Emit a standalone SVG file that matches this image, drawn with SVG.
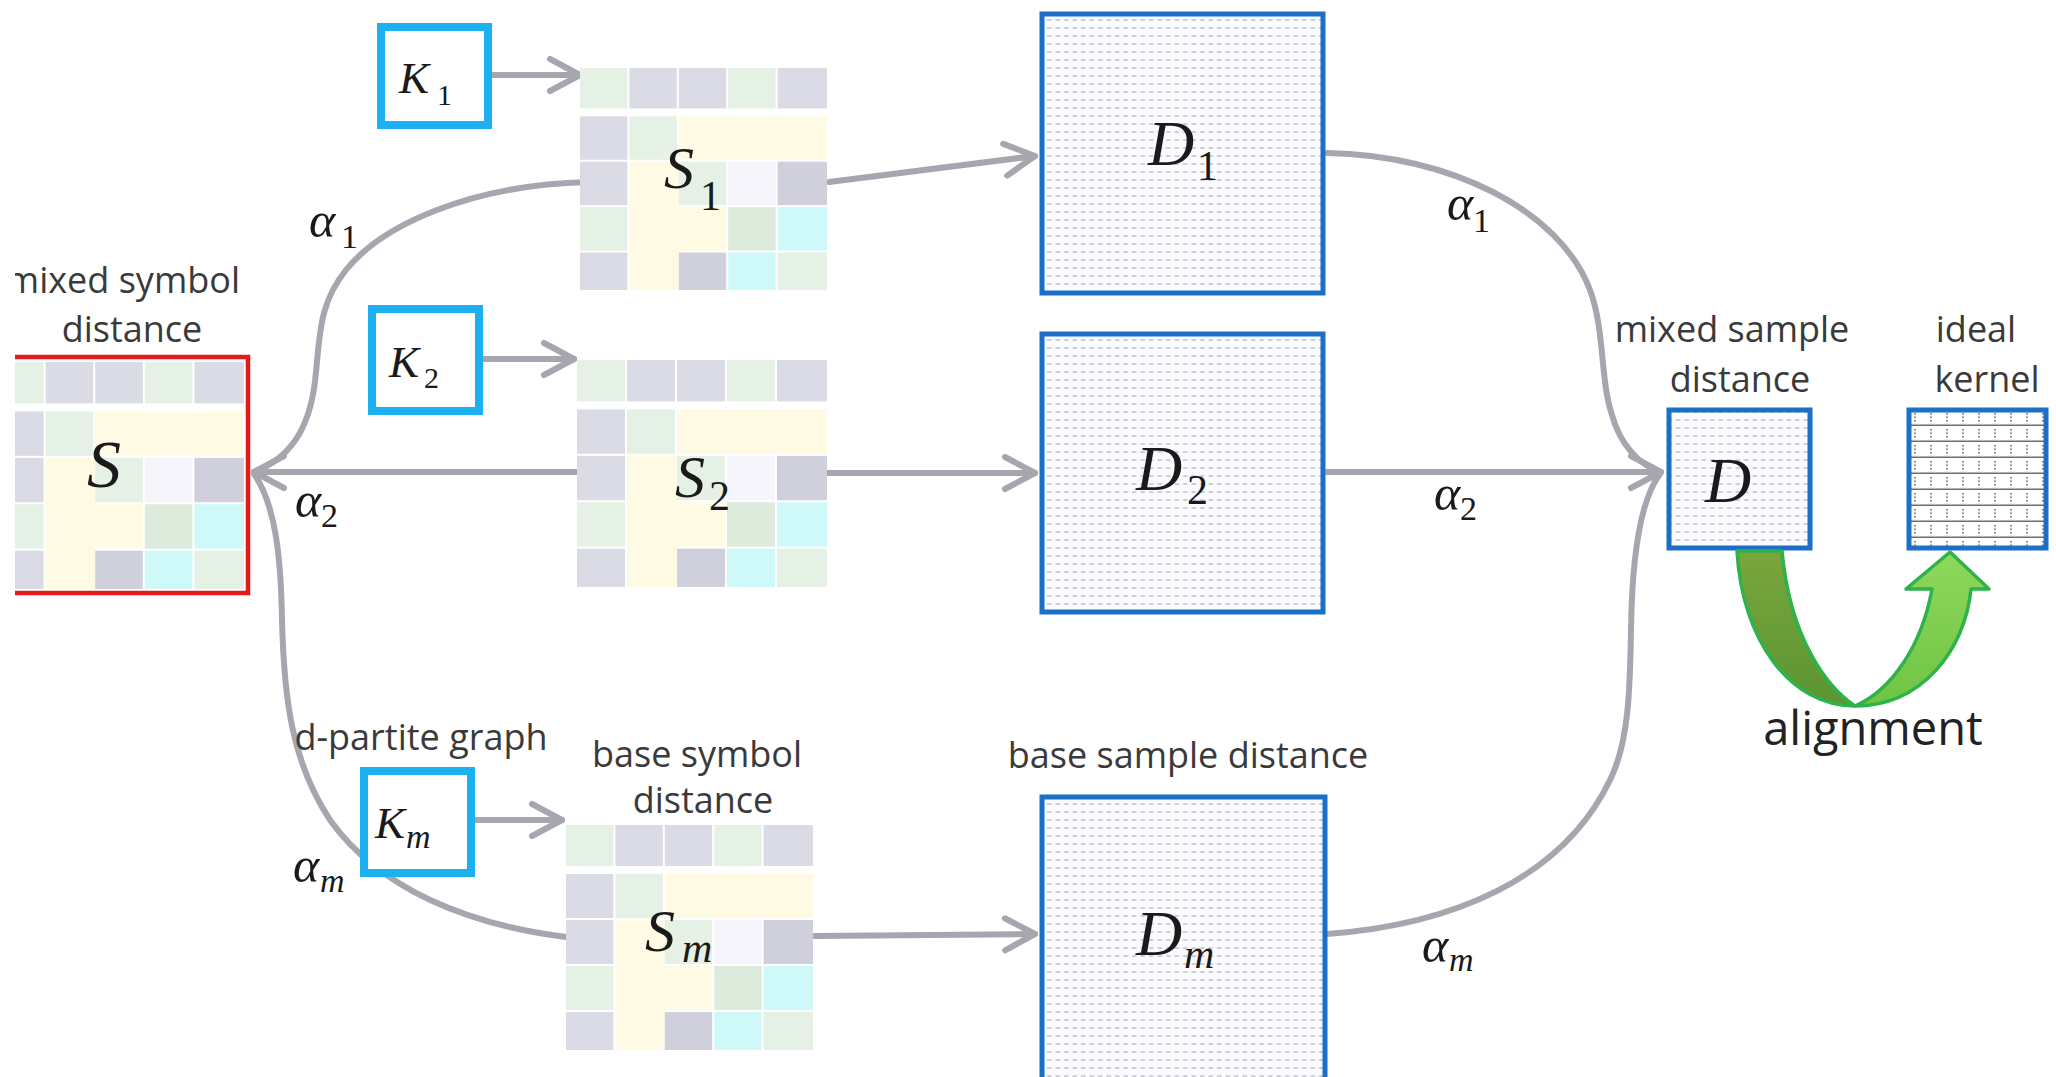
<svg xmlns="http://www.w3.org/2000/svg" xmlns:xlink="http://www.w3.org/1999/xlink" width="2056" height="1077" viewBox="0 0 2056 1077">
  <style>
    .lbl { font-family: "Open Sans", "Noto Sans", "DejaVu Sans", sans-serif; font-size: 36px; fill: #3a3a3a; text-anchor: middle; }
    .big { font-size: 47px; fill: #222; }
    .m { font-family: "Liberation Serif", "DejaVu Serif", serif; font-style: italic; fill: #1a1a1a; }
    .up { font-style: normal; }
    .kbox { fill: #fff; stroke: #1cb0f0; stroke-width: 8; }
    .dbox { fill: url(#dots); stroke: #1b6fc4; stroke-width: 5; }
    .conn { fill: none; stroke: #a6a6ae; stroke-width: 6; stroke-linecap: round; }
    .arr { marker-end: url(#chev); }
    .g { fill: #e4f1e4; } .b { fill: #dbdbe6; } .y { fill: #fffae3; }
    .w { fill: #f5f5fb; } .d { fill: #d0d0dc; } .c { fill: #cff9f9; } .g2 { fill: #dcebdc; }
  </style>
  <defs>
    <marker id="chev" markerUnits="userSpaceOnUse" markerWidth="44" markerHeight="44" viewBox="0 0 44 44" refX="36" refY="22" orient="auto" overflow="visible">
      <path d="M6,6 L36,22 L6,38" fill="none" stroke="#a6a6ae" stroke-width="6" stroke-linecap="round" stroke-linejoin="round"/>
    </marker>
    <!-- fine dash texture used inside the distance matrices -->
    <pattern id="dots" patternUnits="userSpaceOnUse" width="8.5" height="8">
      <rect width="8.5" height="8" fill="#fbfbfe"/>
      <rect x="1.5" y="3.4" width="4.5" height="1.3" fill="#b6b6ca"/>
    </pattern>
    <!-- ruled texture of the ideal kernel -->
    <pattern id="rules" patternUnits="userSpaceOnUse" x="1907" y="410" width="16" height="16">
      <rect width="16" height="16" fill="#fff"/>
      <rect x="0" y="14.5" width="16" height="1.5" fill="#6a6a6a"/>
      <rect x="7" y="3" width="2" height="1.6" fill="#8a8a8a"/>
      <rect x="7" y="6.5" width="2" height="1.6" fill="#8a8a8a"/>
      <rect x="7" y="10" width="2" height="1.6" fill="#8a8a8a"/>
    </pattern>
    <linearGradient id="bandDark" x1="0" y1="0" x2="0" y2="1">
      <stop offset="0" stop-color="#7aa63c"/>
      <stop offset="1" stop-color="#5b9432"/>
    </linearGradient>
    <linearGradient id="bandLight" x1="0" y1="1" x2="0" y2="0">
      <stop offset="0" stop-color="#6fc444"/>
      <stop offset="1" stop-color="#8fd85c"/>
    </linearGradient>
    <clipPath id="edge">
      <rect x="15" y="0" width="600" height="1077"/>
    </clipPath>
    <!-- 5x5 coloured symbol-distance grid -->
    <symbol id="grid" viewBox="0 0 250 225" preserveAspectRatio="none">
      <rect class="g" x="0" y="0" width="48" height="41"/>
      <rect class="b" x="50" y="0" width="48" height="41"/>
      <rect class="b" x="100" y="0" width="48" height="41"/>
      <rect class="g" x="150" y="0" width="48" height="41"/>
      <rect class="b" x="200" y="0" width="50" height="41"/>

      <rect class="b" x="0" y="49" width="48" height="44"/>
      <rect class="g" x="50" y="49" width="48" height="44"/>
      <rect class="y" x="100" y="49" width="150" height="44"/>

      <rect class="b" x="0" y="95" width="48" height="44"/>
      <rect class="y" x="50" y="95" width="50" height="130"/>
      <rect class="g" x="100" y="95" width="48" height="44"/>
      <rect class="w" x="150" y="95" width="48" height="44"/>
      <rect class="d" x="200" y="95" width="50" height="44"/>

      <rect class="g" x="0" y="141" width="48" height="44"/>
      <rect class="y" x="100" y="141" width="48" height="44"/>
      <rect class="g2" x="150" y="141" width="48" height="44"/>
      <rect class="c" x="200" y="141" width="50" height="44"/>

      <rect class="b" x="0" y="187" width="48" height="38"/>
      <rect class="d" x="100" y="187" width="48" height="38"/>
      <rect class="c" x="150" y="187" width="48" height="38"/>
      <rect class="g" x="200" y="187" width="50" height="38"/>
    </symbol>
  </defs>

  <rect width="2056" height="1077" fill="#fff"/>

  <!-- connectors -->
  <g id="connectors">
    <path class="conn arr" d="M492,75 L580,75"/>
    <path class="conn arr" d="M483,359 L574,359"/>
    <path class="conn arr" d="M475,820 L562,820"/>
    <path class="conn arr" d="M829,182 L1035,156"/>
    <path class="conn arr" d="M827,473 L1035,473"/>
    <path class="conn arr" d="M815,936 L1035,934"/>
    <path class="conn" d="M588,182 C470,185 382,225 346,270 C320,302 320,332 316,372 C312,420 296,456 254,472"/>
    <path class="conn arr" d="M577,472 L254,472"/>
    <path class="conn" d="M566,937 C470,925 380,890 330,820 C292,762 284,700 282,620 C281,560 276,505 254,474"/>
    <path class="conn" d="M1327,153 C1450,155 1560,210 1590,290 C1605,330 1600,380 1612,415 C1620,445 1640,465 1660,472"/>
    <path class="conn arr" d="M1327,472 L1661,472"/>
    <path class="conn" d="M1327,934 C1450,925 1562,880 1610,780 C1630,740 1630,680 1631,630 C1632,560 1640,500 1660,474"/>
  </g>

  <!-- mixed symbol distance -->
  <g id="node-S" clip-path="url(#edge)">
    <text class="lbl" x="240" y="293" style="text-anchor:end">mixed symbol</text>
    <text class="lbl" x="132" y="342">distance</text>
    <use href="#grid" xlink:href="#grid" x="-4" y="362" width="248" height="227"/>
    <path d="M15,357 H248 V593 H15" fill="none" stroke="#e3191c" stroke-width="4.5"/>
    <text class="m" x="87" y="487" font-size="68">S</text>
  </g>

  <!-- graph kernels -->
  <g id="node-K1">
    <rect class="kbox" x="381" y="27" width="107" height="98"/>
    <text class="m" x="399" y="93" font-size="45">K</text>
    <text class="m up" x="437" y="105" font-size="30">1</text>
  </g>
  <g id="node-K2">
    <rect class="kbox" x="372" y="309" width="107" height="102"/>
    <text class="m" x="389" y="377" font-size="45">K</text>
    <text class="m up" x="424" y="388" font-size="30">2</text>
  </g>
  <g id="node-Km">
    <text class="lbl" x="421" y="750">d-partite graph</text>
    <rect class="kbox" x="364" y="771" width="107" height="102"/>
    <text class="m" x="375" y="838" font-size="45">K</text>
    <text class="m" x="406" y="848" font-size="34">m</text>
  </g>

  <!-- base symbol distances -->
  <g id="node-S1">
    <use href="#grid" xlink:href="#grid" x="580" y="68" width="247" height="222"/>
    <text class="m" x="664" y="188" font-size="60">S</text>
    <text class="m up" x="700" y="210" font-size="42">1</text>
  </g>
  <g id="node-S2">
    <use href="#grid" xlink:href="#grid" x="577" y="360" width="250" height="227"/>
    <text class="m" x="675" y="497" font-size="60">S</text>
    <text class="m up" x="709" y="510" font-size="42">2</text>
  </g>
  <g id="node-Sm">
    <text class="lbl" x="697" y="767">base symbol</text>
    <text class="lbl" x="703" y="813">distance</text>
    <use href="#grid" xlink:href="#grid" x="566" y="825" width="247" height="225"/>
    <text class="m" x="645" y="951" font-size="60">S</text>
    <text class="m" x="682" y="962" font-size="42">m</text>
  </g>

  <!-- base sample distances -->
  <g id="node-D1">
    <rect class="dbox" x="1042" y="14" width="281" height="279"/>
    <text class="m" x="1148" y="165" font-size="64">D</text>
    <text class="m up" x="1197" y="180" font-size="42">1</text>
  </g>
  <g id="node-D2">
    <rect class="dbox" x="1042" y="334" width="281" height="278"/>
    <text class="m" x="1136" y="490" font-size="64">D</text>
    <text class="m up" x="1187" y="504" font-size="42">2</text>
  </g>
  <g id="node-Dm">
    <text class="lbl" x="1188" y="768">base sample distance</text>
    <rect class="dbox" x="1042" y="797" width="283" height="290"/>
    <text class="m" x="1136" y="955" font-size="64">D</text>
    <text class="m" x="1184" y="968" font-size="42">m</text>
  </g>

  <!-- mixed sample distance -->
  <g id="node-D">
    <text class="lbl" x="1732" y="342">mixed sample</text>
    <text class="lbl" x="1740" y="392">distance</text>
    <rect class="dbox" x="1669" y="410" width="141" height="138"/>
    <text class="m" x="1705" y="502" font-size="64">D</text>
  </g>

  <!-- ideal kernel -->
  <g id="node-ideal">
    <text class="lbl" x="1976" y="342">ideal</text>
    <text class="lbl" x="1987" y="392">kernel</text>
    <rect x="1909" y="410" width="137" height="138" fill="url(#rules)" stroke="#1b6fc4" stroke-width="5"/>
  </g>

  <!-- alignment arrow -->
  <g id="node-alignment">
    <path d="M1737,551 C1742,640 1790,706 1855,706 C1828,688 1790,640 1782,551 Z" fill="url(#bandDark)" stroke="#2db34a" stroke-width="3.5" stroke-linejoin="round"/>
    <path d="M1855,706 C1922,706 1965,650 1971,589 L1989,589 L1950,552 L1906,589 L1932,589 C1922,645 1892,690 1855,706 Z" fill="url(#bandLight)" stroke="#2db34a" stroke-width="3.5" stroke-linejoin="round"/>
    <text class="lbl big" x="1873" y="745">alignment</text>
  </g>

  <!-- mixing weights -->
  <g id="weights">
    <text class="m" x="309" y="237" font-size="50">α</text>
    <text class="m up" x="341" y="248" font-size="34">1</text>
    <text class="m" x="295" y="517" font-size="50">α</text>
    <text class="m up" x="321" y="527" font-size="34">2</text>
    <text class="m" x="293" y="882" font-size="50">α</text>
    <text class="m" x="320" y="892" font-size="34">m</text>
    <text class="m" x="1447" y="220" font-size="50">α</text>
    <text class="m up" x="1473" y="232" font-size="34">1</text>
    <text class="m" x="1434" y="510" font-size="50">α</text>
    <text class="m up" x="1460" y="520" font-size="34">2</text>
    <text class="m" x="1422" y="962" font-size="50">α</text>
    <text class="m" x="1449" y="971" font-size="34">m</text>
  </g>
</svg>
